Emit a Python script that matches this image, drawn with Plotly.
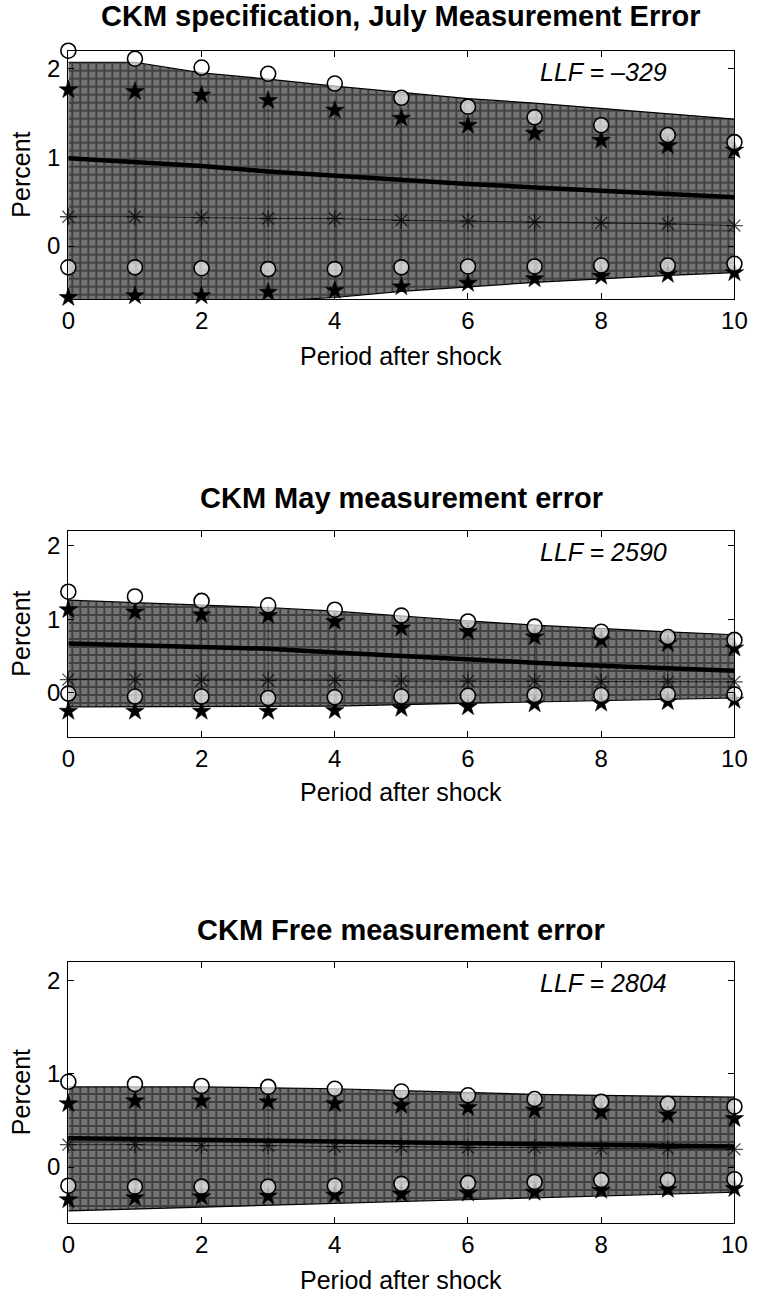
import plotly.graph_objects as go

periods = [0, 1, 2, 3, 4, 5, 6, 7, 8, 9, 10]
x_ticks = [0, 2, 4, 6, 8, 10]
y_ticks = [0, 1, 2]

titles = ["CKM specification, July Measurement Error",
          "CKM May measurement error",
          "CKM Free measurement error"]
llf_labels = ["LLF = \u2013329", "LLF = 2590", "LLF = 2804"]

# Panel 1: July measurement error
band1_up = [2.07, 2.07, 1.95, 1.88, 1.80, 1.73, 1.66, 1.61, 1.55, 1.49, 1.43]
band1_lo = [-0.63, -0.63, -0.63, -0.62, -0.58, -0.51, -0.46, -0.41, -0.37, -0.33, -0.30]
mean1 = [0.99, 0.95, 0.90, 0.84, 0.79, 0.74, 0.70, 0.66, 0.62, 0.58, 0.55]
circ1_up = [2.20, 2.11, 2.01, 1.94, 1.83, 1.67, 1.57, 1.45, 1.36, 1.25, 1.17]
circ1_lo = [-0.24, -0.24, -0.25, -0.26, -0.26, -0.24, -0.23, -0.23, -0.22, -0.22, -0.20]
star1_up = [1.76, 1.74, 1.70, 1.64, 1.53, 1.44, 1.36, 1.27, 1.19, 1.13, 1.08]
star1_lo = [-0.58, -0.56, -0.56, -0.52, -0.50, -0.46, -0.42, -0.37, -0.34, -0.32, -0.30]
ast1 = [0.33, 0.33, 0.32, 0.31, 0.31, 0.29, 0.28, 0.27, 0.26, 0.25, 0.23]

# Panel 2: May measurement error
band2_up = [1.26, 1.23, 1.20, 1.16, 1.11, 1.04, 0.98, 0.92, 0.87, 0.83, 0.79]
band2_lo = [-0.19, -0.19, -0.19, -0.19, -0.18, -0.16, -0.14, -0.12, -0.10, -0.08, -0.07]
mean2 = [0.67, 0.65, 0.63, 0.60, 0.55, 0.50, 0.45, 0.41, 0.37, 0.33, 0.30]
circ2_up = [1.375, 1.31, 1.25, 1.19, 1.13, 1.05, 0.97, 0.90, 0.83, 0.76, 0.72]
circ2_lo = [-0.01, -0.05, -0.05, -0.07, -0.06, -0.05, -0.04, -0.03, -0.03, -0.02, -0.02]
star2_up = [1.13, 1.10, 1.06, 1.05, 0.97, 0.88, 0.83, 0.76, 0.72, 0.67, 0.61]
star2_lo = [-0.25, -0.25, -0.25, -0.25, -0.24, -0.21, -0.19, -0.15, -0.14, -0.12, -0.10]
ast2 = [0.18, 0.18, 0.17, 0.17, 0.17, 0.16, 0.16, 0.16, 0.15, 0.15, 0.15]

# Panel 3: Free measurement error
band3_up = [0.86, 0.86, 0.86, 0.85, 0.84, 0.82, 0.80, 0.78, 0.77, 0.76, 0.75]
band3_lo = [-0.47, -0.45, -0.43, -0.41, -0.39, -0.37, -0.35, -0.33, -0.31, -0.29, -0.27]
mean3 = [0.31, 0.30, 0.30, 0.29, 0.28, 0.27, 0.26, 0.25, 0.24, 0.23, 0.22]
circ3_up = [0.915, 0.89, 0.87, 0.86, 0.84, 0.81, 0.77, 0.73, 0.70, 0.68, 0.65]
circ3_lo = [-0.20, -0.21, -0.21, -0.21, -0.20, -0.18, -0.17, -0.16, -0.14, -0.14, -0.13]
star3_up = [0.68, 0.71, 0.71, 0.70, 0.68, 0.66, 0.64, 0.61, 0.59, 0.56, 0.52]
star3_lo = [-0.35, -0.33, -0.32, -0.31, -0.30, -0.29, -0.28, -0.27, -0.25, -0.24, -0.23]
ast3 = [0.24, 0.24, 0.23, 0.23, 0.22, 0.22, 0.21, 0.21, 0.20, 0.20, 0.19]

panels = [
    dict(band_up=band1_up, band_lo=band1_lo, mean=mean1, circ_up=circ1_up, circ_lo=circ1_lo,
         star_up=star1_up, star_lo=star1_lo, ast=ast1),
    dict(band_up=band2_up, band_lo=band2_lo, mean=mean2, circ_up=circ2_up, circ_lo=circ2_lo,
         star_up=star2_up, star_lo=star2_lo, ast=ast2),
    dict(band_up=band3_up, band_lo=band3_lo, mean=mean3, circ_up=circ3_up, circ_lo=circ3_lo,
         star_up=star3_up, star_lo=star3_lo, ast=ast3),
]

W, H = 763, 1294
# pixel boxes (top, bottom) of each plot area
boxes = [(50.7, 299.3), (531.0, 737.0), (962.0, 1223.0)]
x_left, x_right = 63.0, 747.0
title_y = [16, 498, 930]
xlabel_y = [356, 792, 1280]

FONT = "Liberation Sans, Arial, Helvetica, sans-serif"

fig = go.Figure()
layout = dict(width=W, height=H, margin=dict(l=0, r=0, t=0, b=0),
              paper_bgcolor="white", plot_bgcolor="white", showlegend=False,
              font=dict(family=FONT, color="black"))
annotations = []

for i, p in enumerate(panels):
    k = "" if i == 0 else str(i + 1)
    xa, ya = "x" + k, "y" + k
    top, bot = boxes[i]
    # band
    fig.add_trace(go.Scatter(x=periods, y=p["band_lo"], mode="lines",
                             line=dict(color="black", width=1.2), xaxis=xa, yaxis=ya,
                             hoverinfo="skip"))
    fig.add_trace(go.Scatter(x=periods, y=p["band_up"], mode="lines", fill="tonexty",
                             fillcolor="#6a6a6a",
                             fillpattern=dict(shape="+", bgcolor="#747474", fgcolor="#0d0d0d",
                                              size=8, solidity=0.45),
                             line=dict(color="black", width=1.2), xaxis=xa, yaxis=ya,
                             hoverinfo="skip"))
    # vertical bars between star bounds
    vx, vy = [], []
    for xv, lo, hi in zip(periods, p["star_lo"], p["star_up"]):
        vx += [xv, xv, None]
        vy += [lo, hi, None]
    fig.add_trace(go.Scatter(x=vx, y=vy, mode="lines",
                             line=dict(color="rgba(0,0,0,0.45)", width=1),
                             xaxis=xa, yaxis=ya, hoverinfo="skip"))
    # asterisk line
    fig.add_trace(go.Scatter(x=periods, y=p["ast"], mode="lines+markers",
                             line=dict(color="rgba(0,0,0,0.7)", width=1),
                             marker=dict(symbol="asterisk-open", size=14,
                                         line=dict(color="black", width=1.3)),
                             cliponaxis=False, xaxis=xa, yaxis=ya))
    # mean thick line
    fig.add_trace(go.Scatter(x=periods, y=p["mean"], mode="lines",
                             line=dict(color="black", width=4.5), xaxis=xa, yaxis=ya))
    # stars
    for key in ("star_up", "star_lo"):
        fig.add_trace(go.Scatter(x=periods, y=p[key], mode="markers",
                                 marker=dict(symbol="star", size=14, color="black",
                                             line=dict(color="black", width=0.5)),
                                 cliponaxis=False, xaxis=xa, yaxis=ya))
    # circles
    for key in ("circ_up", "circ_lo"):
        fig.add_trace(go.Scatter(x=periods, y=p[key], mode="markers",
                                 marker=dict(symbol="circle", size=15,
                                             color="rgba(255,255,255,0.65)",
                                             line=dict(color="black", width=1.6)),
                                 cliponaxis=False, xaxis=xa, yaxis=ya))

    axis_common = dict(showline=True, linecolor="black", linewidth=1.3, mirror="ticks",
                       ticks="inside", ticklen=6, tickwidth=1, tickcolor="black",
                       showgrid=False, zeroline=False,
                       tickfont=dict(family=FONT, size=24, color="black"))
    layout["xaxis" + k] = dict(axis_common, range=[0, 10], tickvals=x_ticks,
                               domain=[x_left / W, x_right / W], anchor=ya)
    layout["yaxis" + k] = dict(axis_common, range=[-0.6, 2.2], tickvals=y_ticks,
                               domain=[1 - bot / H, 1 - top / H], anchor=xa,
                               ticklabelstandoff=2)

    cx = (x_left + x_right) / 2 / W
    annotations.append(dict(text="<b>" + titles[i] + "</b>", xref="paper", yref="paper",
                            x=cx, y=1 - title_y[i] / H, xanchor="center", yanchor="middle",
                            showarrow=False, font=dict(family=FONT, size=29, color="black")))
    annotations.append(dict(text="Period after shock", xref="paper", yref="paper",
                            x=cx, y=1 - xlabel_y[i] / H, xanchor="center", yanchor="middle",
                            showarrow=False, font=dict(family=FONT, size=25, color="black")))
    annotations.append(dict(text="Percent", xref="paper", yref="paper", textangle=-90,
                            x=14 / W, y=1 - (top + bot) / 2 / H, xanchor="center",
                            yanchor="middle", showarrow=False,
                            font=dict(family=FONT, size=25, color="black")))
    annotations.append(dict(text="<i>" + llf_labels[i] + "</i>", xref="paper", yref="paper",
                            x=545 / W, y=1 - (top + 21) / H, xanchor="left",
                            yanchor="middle", showarrow=False,
                            font=dict(family=FONT, size=25, color="black")))

layout["annotations"] = annotations
fig.update_layout(**layout)
fig.write_html("out.html")
